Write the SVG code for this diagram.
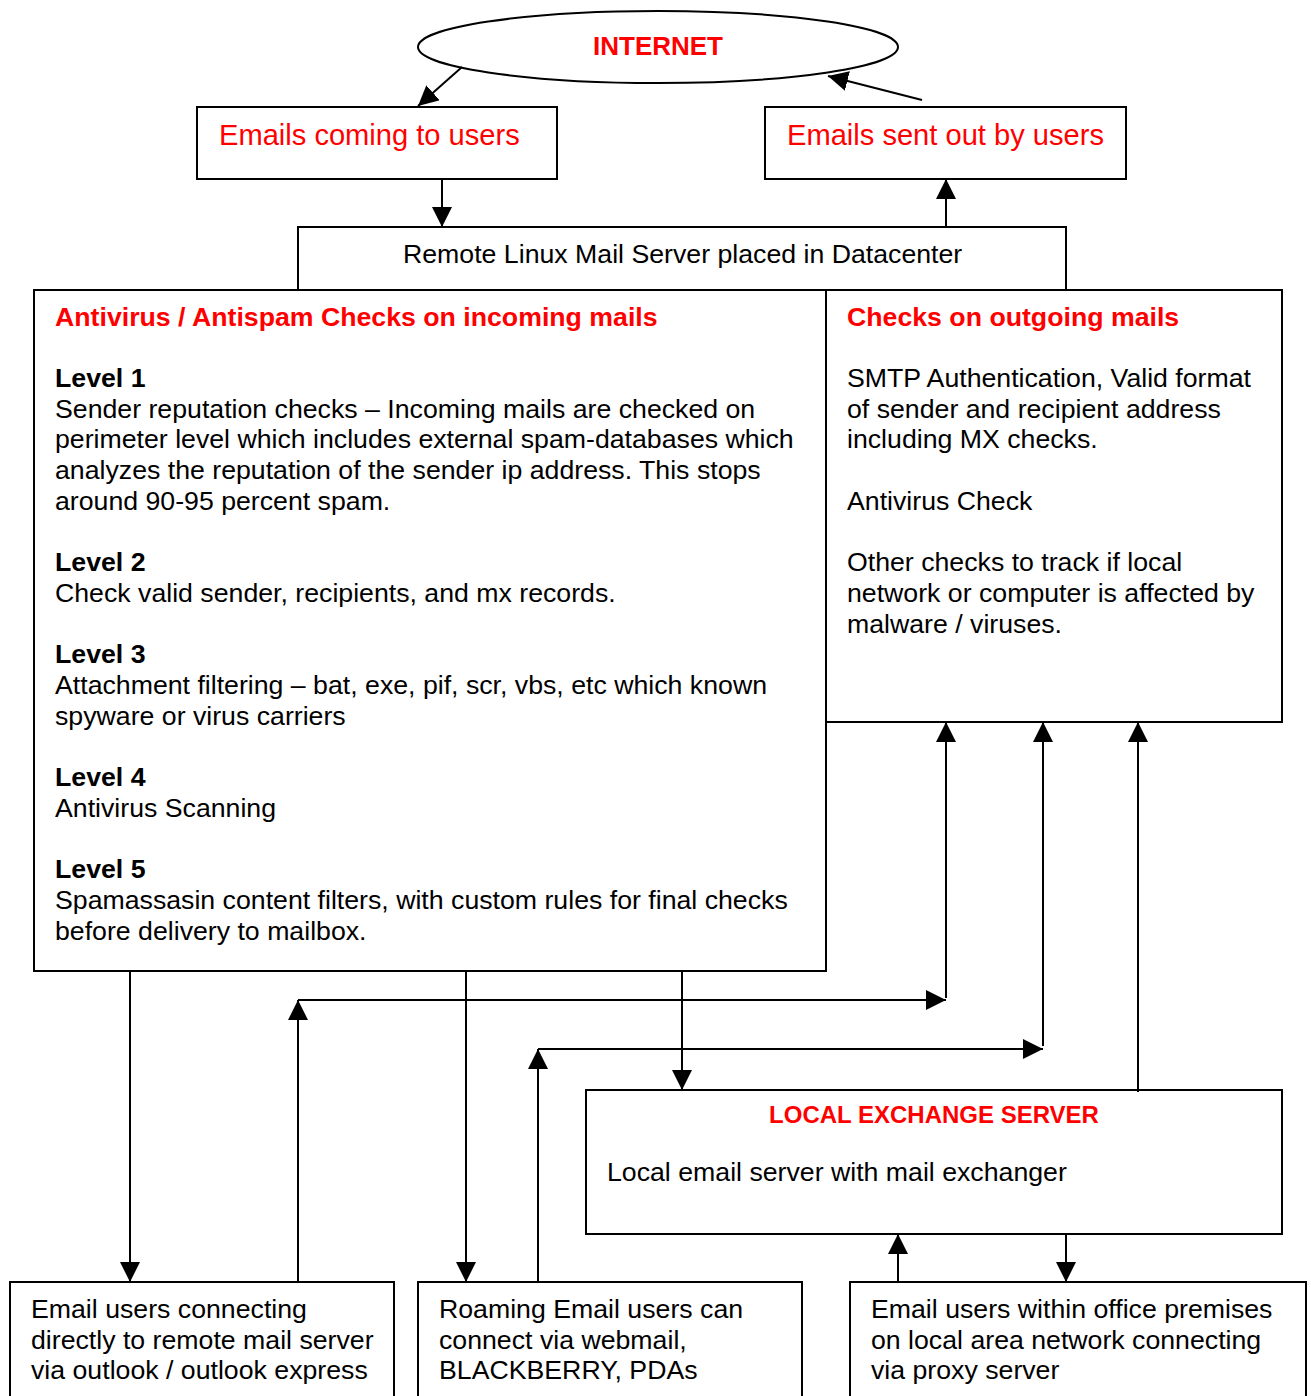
<svg xmlns="http://www.w3.org/2000/svg" width="1311" height="1396" viewBox="0 0 1311 1396">
<defs>
<marker id="ah" markerUnits="userSpaceOnUse" markerWidth="20" markerHeight="20" refX="20" refY="10" orient="auto" viewBox="0 0 20 20">
<path d="M0,0 L20,10 L0,20 z" fill="#000"/>
</marker>
</defs>
<style>
.box{fill:#fff;stroke:#000;stroke-width:2}
.t{font-family:"Liberation Sans",Arial,sans-serif;font-size:26.7px;fill:#000}
.b{font-weight:bold}
.red{fill:#ff0000}
.big{font-size:29.1px}
.c{fill:none;stroke:#000;stroke-width:2;marker-end:url(#ah)}
</style>
<rect width="1311" height="1396" fill="#fff"/>

<g id="internet">
<ellipse class="box" cx="658" cy="47" rx="240" ry="36"/>
<text class="t b red" x="658" y="55" text-anchor="middle" style="font-size:26px">INTERNET</text>
</g>

<g id="incoming">
<rect class="box" x="197" y="107" width="360" height="72"/>
<text class="t big red" x="219" y="145">Emails coming to users</text>
</g>

<g id="outgoing">
<rect class="box" x="765" y="107" width="361" height="72"/>
<text class="t big red" x="787" y="145">Emails sent out by users</text>
</g>

<g id="remote">
<rect class="box" x="298" y="227" width="768" height="80"/>
<text class="t" x="403" y="263">Remote Linux Mail Server placed in Datacenter</text>
</g>

<g id="incoming-checks">
<rect class="box" x="34" y="290" width="792" height="681"/>
<text class="t b red" x="55" y="326">Antivirus / Antispam Checks on incoming mails</text>
<text class="t b" x="55" y="387">Level 1</text>
<text class="t" x="55" y="417.7">Sender reputation checks – Incoming mails are checked on</text>
<text class="t" x="55" y="448.4">perimeter level which includes external spam-databases which</text>
<text class="t" x="55" y="479.1">analyzes the reputation of the sender ip address. This stops</text>
<text class="t" x="55" y="509.8">around 90-95 percent spam.</text>
<text class="t b" x="55" y="571.2">Level 2</text>
<text class="t" x="55" y="601.9">Check valid sender, recipients, and mx records.</text>
<text class="t b" x="55" y="663.3">Level 3</text>
<text class="t" x="55" y="694">Attachment filtering – bat, exe, pif, scr, vbs, etc which known</text>
<text class="t" x="55" y="724.7">spyware or virus carriers</text>
<text class="t b" x="55" y="786.1">Level 4</text>
<text class="t" x="55" y="816.8">Antivirus Scanning</text>
<text class="t b" x="55" y="878.2">Level 5</text>
<text class="t" x="55" y="908.9">Spamassasin content filters, with custom rules for final checks</text>
<text class="t" x="55" y="939.6">before delivery to mailbox.</text>
</g>

<g id="outgoing-checks">
<rect class="box" x="826" y="290" width="456" height="432"/>
<text class="t b red" x="847" y="326">Checks on outgoing mails</text>
<text class="t" x="847" y="387">SMTP Authentication, Valid format</text>
<text class="t" x="847" y="417.7">of sender and recipient address</text>
<text class="t" x="847" y="448.4">including MX checks.</text>
<text class="t" x="847" y="509.8">Antivirus Check</text>
<text class="t" x="847" y="571.2">Other checks to track if local</text>
<text class="t" x="847" y="601.9">network or computer is affected by</text>
<text class="t" x="847" y="632.6">malware / viruses.</text>
</g>

<g id="local-exchange">
<rect class="box" x="586" y="1090" width="696" height="144"/>
<text class="t b red" x="934" y="1123" text-anchor="middle" style="font-size:24px">LOCAL EXCHANGE SERVER</text>
<text class="t" x="607" y="1181">Local email server with mail exchanger</text>
</g>

<g id="direct-users">
<rect class="box" x="10" y="1282" width="384" height="130"/>
<text class="t" x="31" y="1318">Email users connecting</text>
<text class="t" x="31" y="1348.7">directly to remote mail server</text>
<text class="t" x="31" y="1379.4">via outlook / outlook express</text>
</g>

<g id="roaming-users">
<rect class="box" x="418" y="1282" width="384" height="130"/>
<text class="t" x="439" y="1318">Roaming Email users can</text>
<text class="t" x="439" y="1348.7">connect via webmail,</text>
<text class="t" x="439" y="1379.4">BLACKBERRY, PDAs</text>
</g>

<g id="office-users">
<rect class="box" x="850" y="1282" width="456" height="130"/>
<text class="t" x="871" y="1318">Email users within office premises</text>
<text class="t" x="871" y="1348.7">on local area network connecting</text>
<text class="t" x="871" y="1379.4">via proxy server</text>
</g>

<g id="connectors">
<path class="c" d="M462,67 L418,106"/>
<path class="c" d="M922,100 L828,76"/>
<path class="c" d="M442,179 L442,227"/>
<path class="c" d="M946,227 L946,179"/>
<path class="c" d="M130,971 L130,1282"/>
<path class="c" d="M466,971 L466,1282"/>
<path class="c" d="M682,971 L682,1090"/>
<path class="c" d="M298,1282 L298,1000"/>
<path class="c" d="M298,1000 L946,1000"/>
<path class="c" d="M946,998 L946,722"/>
<path class="c" d="M538,1282 L538,1049"/>
<path class="c" d="M538,1049 L1043,1049"/>
<path class="c" d="M1043,1046 L1043,722"/>
<path class="c" d="M1138,1092 L1138,722"/>
<path class="c" d="M898,1282 L898,1234"/>
<path class="c" d="M1066,1234 L1066,1282"/>
</g>
</svg>
